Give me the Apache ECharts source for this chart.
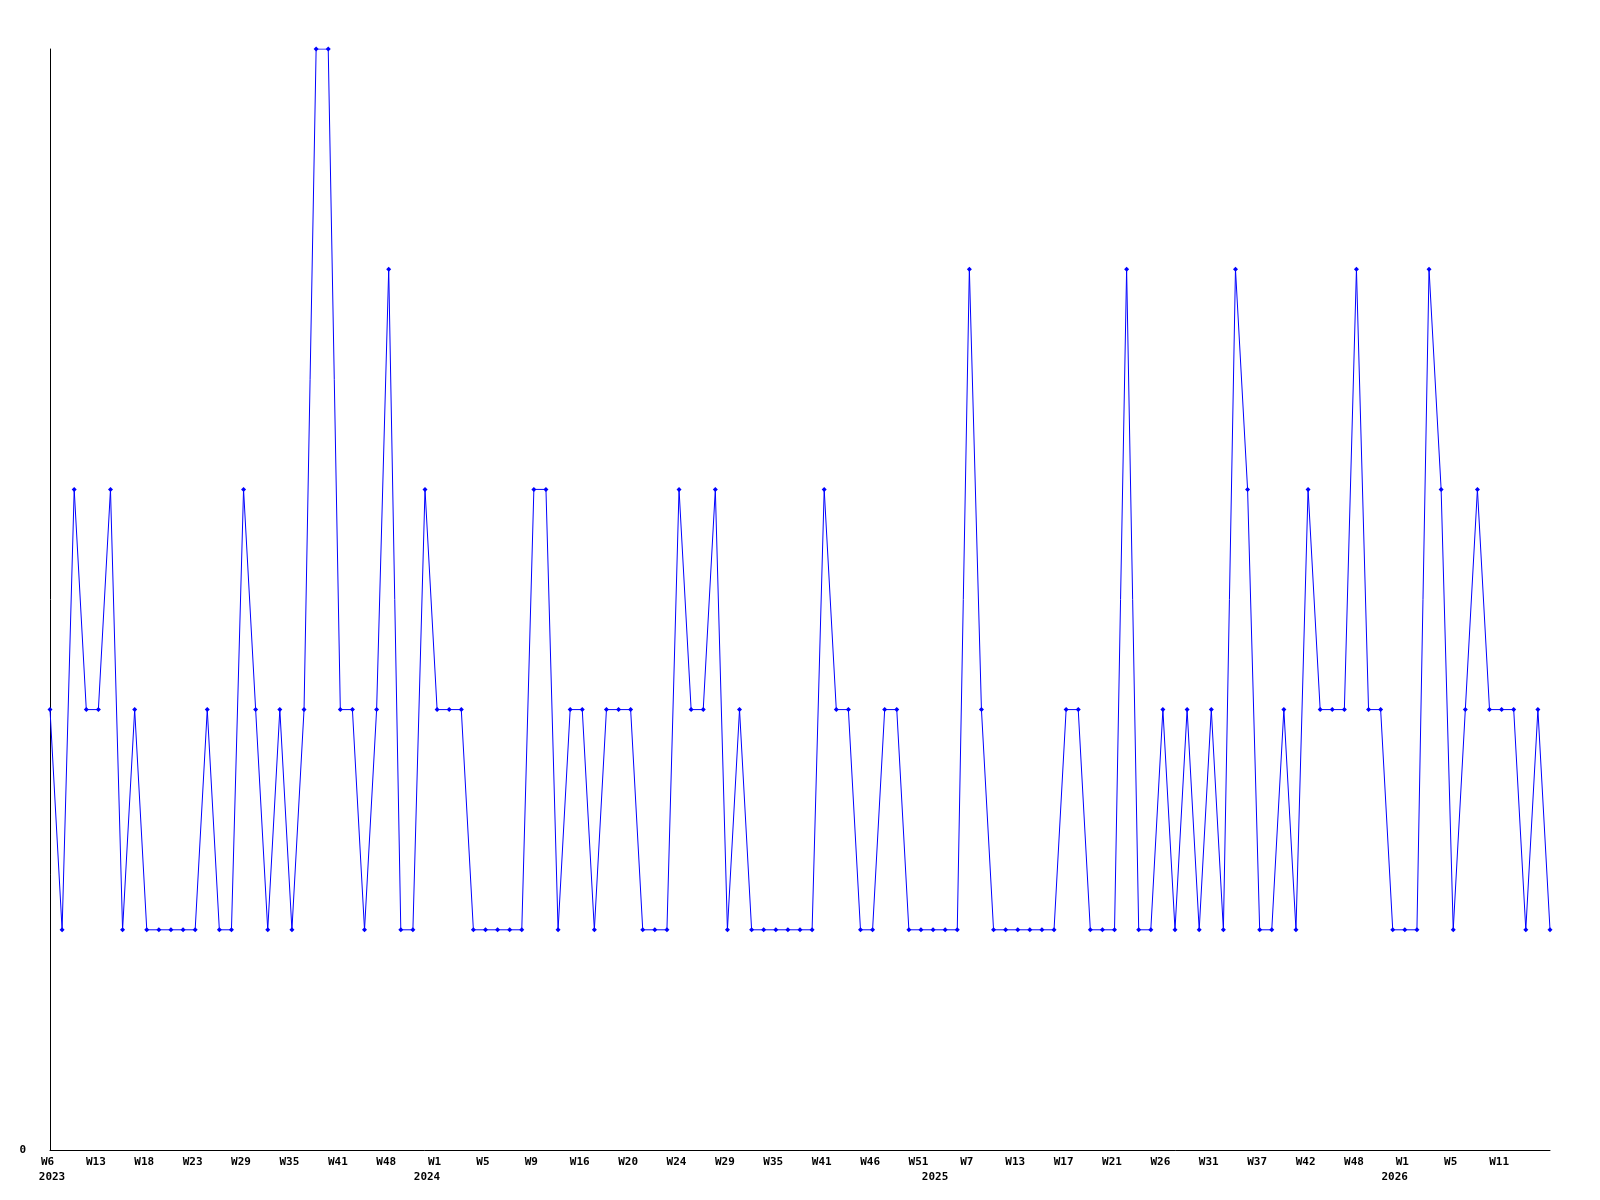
<!DOCTYPE html>
<html>
<head>
<meta charset="utf-8">
<script src="https://cdn.jsdelivr.net/npm/echarts@6/dist/echarts.min.js"></script>
<style>
  html, body { margin: 0; padding: 0; background: #fff; }
  #chart { width: 1600px; height: 1200px; }
</style>
</head>
<body>
<div id="chart"></div>
<script>
  // one value per sample
  const values = [
    2, 1, 3, 2, 2, 3, 1, 2, 1, 1,
    1, 1, 1, 2, 1, 1, 3, 2, 1, 2,
    1, 2, 5, 5, 2, 2, 1, 2, 4, 1,
    1, 3, 2, 2, 2, 1, 1, 1, 1, 1,
    3, 3, 1, 2, 2, 1, 2, 2, 2, 1,
    1, 1, 3, 2, 2, 3, 1, 2, 1, 1,
    1, 1, 1, 1, 3, 2, 2, 1, 1, 2,
    2, 1, 1, 1, 1, 1, 4, 2, 1, 1,
    1, 1, 1, 1, 2, 2, 1, 1, 1, 4,
    1, 1, 2, 1, 2, 1, 2, 1, 4, 3,
    1, 1, 2, 1, 3, 2, 2, 2, 4, 2,
    2, 1, 1, 1, 4, 3, 1, 2, 3, 2,
    2, 2, 1, 2, 1,
  ];

  // week labels shown on every 4th sample
  const tickLabels = [
    'W6', 'W13', 'W18', 'W23', 'W29', 'W35', 'W41', 'W48',
    'W1', 'W5', 'W9', 'W16', 'W20', 'W24', 'W29', 'W35',
    'W41', 'W46', 'W51', 'W7', 'W13', 'W17', 'W21', 'W26',
    'W31', 'W37', 'W42', 'W48', 'W1', 'W5', 'W11',
  ];
  const tickEvery = 4;

  // year labels sit where the year starts
  const years = ['2023', '2024', '2025', '2026'];
  const yearAt = [0, 31, 73, 111];

  const categories = values.map((v, i) => (i % tickEvery === 0 ? (tickLabels[i / tickEvery] || '') : ''));
  const yearCategories = values.map((v, i) => {
    const k = yearAt.indexOf(i);
    return k >= 0 ? years[k] : '';
  });

  const font = 'DejaVu Sans Mono';
  const labelBase = {
    color: '#000',
    fontFamily: font,
    fontWeight: 'bold',
    fontSize: 11,
  };

  const myChart = echarts.init(document.getElementById('chart'), null, { renderer: 'canvas' });
  myChart.setOption({
    animation: false,
    backgroundColor: '#fff',
    grid: {
      left: 50,
      right: 50,
      top: 49,
      bottom: 50,
      containLabel: false,
    },
    xAxis: [
      {
        type: 'category',
        boundaryGap: false,
        data: categories,
        axisLine: {
          lineStyle: { color: '#000', width: 1 },
        },
        axisTick: { show: false },
        axisLabel: {
          ...labelBase,
          interval: tickEvery - 1,
          margin: 7,
          padding: [0, 5, 0, 0],
        },
        splitLine: { show: false },
      },
      {
        type: 'category',
        position: 'bottom',
        boundaryGap: false,
        data: yearCategories,
        axisLine: { show: false },
        axisTick: { show: false },
        axisLabel: {
          ...labelBase,
          interval: 0,
          margin: 22,
          padding: [0, 0, 0, 4],
        },
        splitLine: { show: false },
      },
    ],
    yAxis: {
      type: 'value',
      min: 0,
      max: 5,
      interval: 1,
      axisLine: {
        show: true,
        lineStyle: { color: '#000', width: 1 },
      },
      axisTick: { show: false },
      axisLabel: {
        ...labelBase,
        margin: 24,
        formatter: value => (value === 0 ? '0' : ''),
      },
      splitLine: { show: false },
    },
    series: [
      {
        type: 'line',
        xAxisIndex: 0,
        data: values,
        symbol: 'diamond',
        symbolSize: 5,
        showAllSymbol: true,
        lineStyle: { color: '#0000ff', width: 1 },
        itemStyle: { color: '#0000ff' },
      },
    ],
  });
</script>
</body>
</html>
